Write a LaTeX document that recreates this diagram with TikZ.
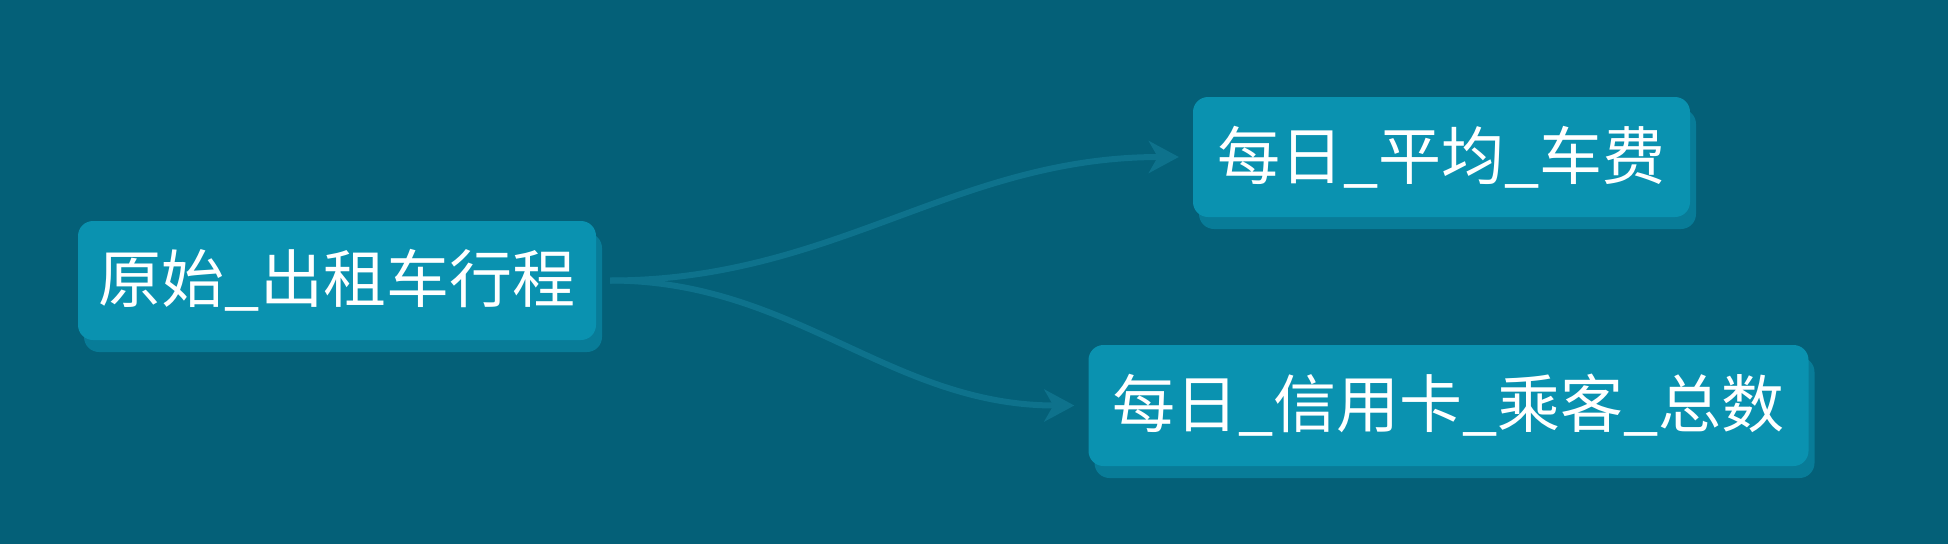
\documentclass[tikz,border=0pt]{standalone}
\usepackage{fontspec}
\newfontfamily\cjk{Noto Sans CJK SC}
\usetikzlibrary{arrows.meta,shadows}
\definecolor{bgcol}{RGB}{4,96,120}
\definecolor{boxcol}{RGB}{10,146,176}
\definecolor{shcol}{RGB}{8,124,152}
\definecolor{conncol}{RGB}{14,114,140}
\tikzset{
  tbox/.style={fill=boxcol, rounded corners=15pt, inner sep=0pt,
    drop shadow={shadow xshift=6pt, shadow yshift=-12pt, fill=shcol, opacity=1},
    text=white, font=\cjk\fontsize{63}{72}\selectfont, align=center},
  conn/.style={draw=conncol, line width=6pt,
    -{Stealth[length=30pt,width=32pt,inset=9pt]},
    shorten <=14pt, shorten >=14pt}
}
\begin{document}
\begin{tikzpicture}[x=1pt,y=-1pt]
\fill[bgcol] (0,0) rectangle (1948,544);
\useasboundingbox (0,0) rectangle (1948,544);
\node[tbox, minimum width=518pt, minimum height=119pt] (n1) at (337,280.5) {原始\_出租车行程};
\node[tbox, minimum width=497pt, minimum height=120pt] (n2) at (1441.5,157) {每日\_平均\_车费};
\node[tbox, minimum width=720pt, minimum height=121pt] (n3) at (1448.5,405.5) {每日\_信用卡\_乘客\_总数};
\draw[conn] (n1.east) to[out=0,in=180] (n2.west);
\draw[conn] (n1.east) to[out=0,in=180] (n3.west);
\end{tikzpicture}
\end{document}
